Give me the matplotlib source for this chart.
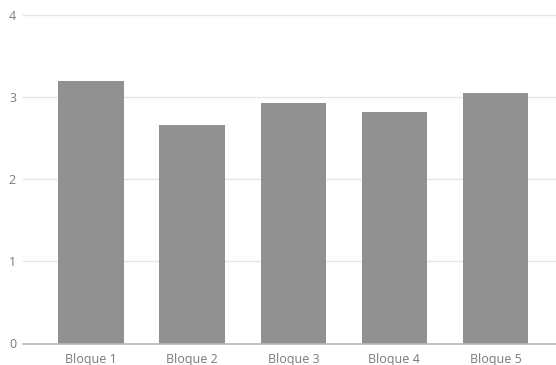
import matplotlib
matplotlib.use("Agg")
import matplotlib.pyplot as plt

categories = ["Bloque 1", "Bloque 2", "Bloque 3", "Bloque 4", "Bloque 5"]
values = [3.19, 2.66, 2.92, 2.81, 3.04]
yticks = [0, 1, 2, 3, 4]

plt.rcParams['font.family'] = ['Open Sans', 'DejaVu Sans']

fig = plt.figure(figsize=(5.56, 3.65), dpi=100)
ax = fig.add_axes([23/556, 1 - 343.5/365, 1 - 23/556, (343.5 - 14.5)/365])

x = list(range(len(categories)))
ax.bar(x, values, width=0.65, color="#919191", zorder=3)

ax.set_xlim(-0.676, 4.60)
ax.set_ylim(0, 4)
ax.set_yticks(yticks)
ax.set_yticklabels([str(t) for t in yticks])
ax.set_xticks(x)
ax.set_xticklabels(categories)

for t in yticks[1:]:
    ax.axhline(t, color="#e6e6e6", linewidth=1, zorder=1, clip_on=False)

for s in ["top", "right", "left"]:
    ax.spines[s].set_visible(False)
ax.spines["bottom"].set_color("#b8b8b8")
ax.spines["bottom"].set_linewidth(1.2)
ax.spines["bottom"].set_zorder(4)

ax.tick_params(axis="both", length=0, colors="#7a7a7a", labelsize=9)
ax.tick_params(axis="y", pad=5)
ax.tick_params(axis="x", pad=6.5)

fig.savefig("out.png", dpi=100)
